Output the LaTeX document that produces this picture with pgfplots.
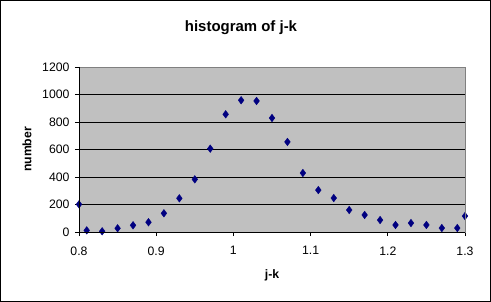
\documentclass[border=0pt]{standalone}
\usepackage{pgfplots}
\pgfplotsset{compat=1.18}
\usepackage{fontspec}
\setmainfont{Liberation Sans}
\definecolor{plotgray}{HTML}{C0C0C0}
\definecolor{framegray}{HTML}{808080}
\definecolor{navy}{HTML}{000080}
\begin{document}
\begin{tikzpicture}
\useasboundingbox (0,0) rectangle (491bp,302bp);
\draw[line width=1bp] (0.5bp,0.5bp) rectangle (490.5bp,301.5bp);
\begin{axis}[
  at={(79bp,70bp)}, anchor=south west,
  scale only axis, width=386bp, height=165bp,
  xmin=0.8, xmax=1.3, ymin=0, ymax=1200,
  xtick={0.8,0.9,1,1.1,1.2,1.3},
  ytick={0,200,...,1200},
  scaled ticks=false,
  /pgf/number format/1000 sep={},
  /pgf/number format/assume math mode=true,
  tick align=outside, xtick pos=bottom, ytick pos=left,
  major tick length=4bp,
  tick style={black, line width=0.8bp},
  axis background/.style={fill=plotgray},
  axis line style={framegray, line width=0.8bp},
  ymajorgrids, major grid style={black, line width=0.8bp},
  ticklabel style={font=\fontsize{12.3}{14}\selectfont},
  xticklabel style={yshift=-7bp},
  yticklabel style={xshift=-2bp},
  title={histogram of j-k},
  title style={font=\bfseries\fontsize{15}{18}\selectfont, at={(axis description cs:0.4197,1.205)}, anchor=center},
  xlabel={j-k},
  ylabel={number},
  every axis x label/.style={at={(axis description cs:0.5,-0.2606)}, anchor=center, font=\bfseries\fontsize{12.3}{14}\selectfont},
  every axis y label/.style={at={(axis description cs:-0.1347,0.5)}, rotate=90, anchor=center, font=\bfseries\fontsize{12.3}{14}\selectfont},
  clip=false,
]
\addplot[only marks, mark=diamond*, mark size=3.8bp, mark options={fill=navy, draw=navy}] coordinates {
(0.80,201) (0.81,12) (0.83,5) (0.85,27) (0.87,49) (0.89,71) (0.91,136) (0.93,245)
(0.95,383) (0.97,606) (0.99,856) (1.01,958) (1.03,953) (1.05,829) (1.07,655)
(1.09,429) (1.11,305) (1.13,247) (1.15,160) (1.17,124) (1.19,87) (1.21,51)
(1.23,65) (1.25,51) (1.27,29) (1.29,29) (1.30,116)
};
\end{axis}
\begin{scope}[shift={(79bp,70bp)}]
\draw[framegray, line width=0.8bp] (0,165bp) -- (386bp,165bp) -- (386bp,0);
\draw[black, line width=0.8bp] (0,165bp) -- (0,0) -- (386bp,0);
\end{scope}
\end{tikzpicture}
\end{document}
